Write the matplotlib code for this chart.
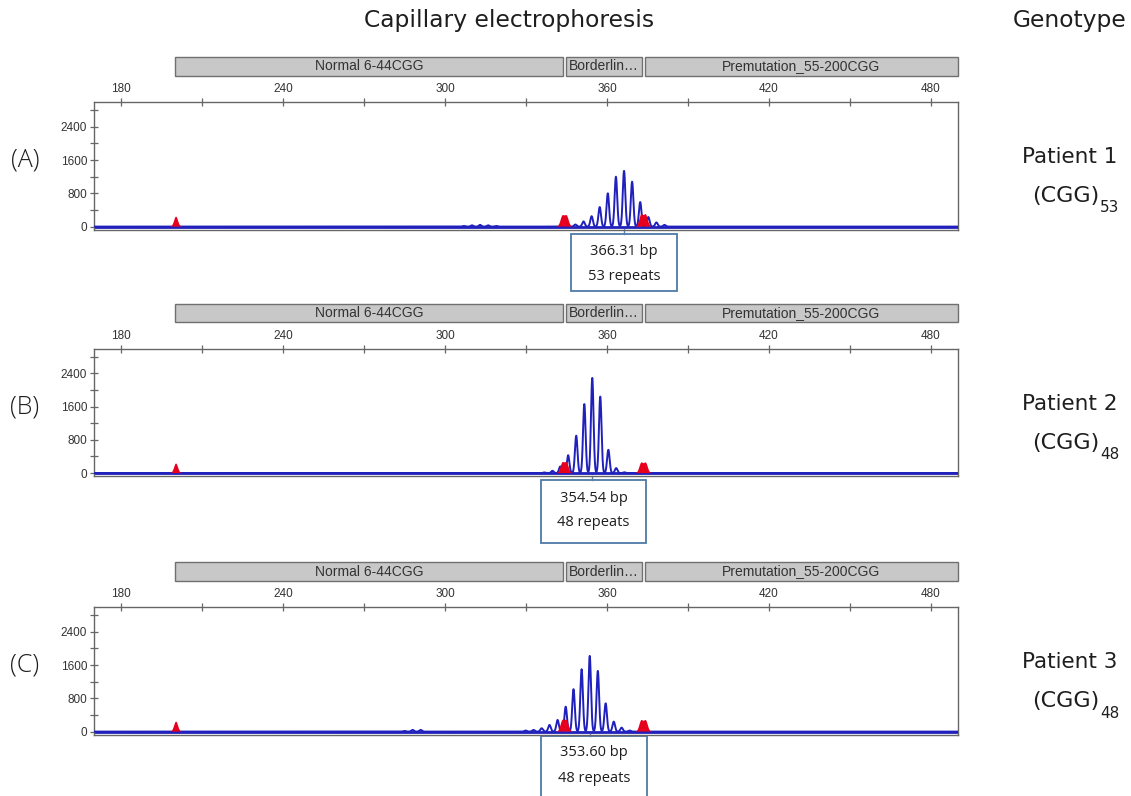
import numpy as np
import matplotlib
matplotlib.use("Agg")
import matplotlib.pyplot as plt
from matplotlib.patches import Rectangle
from matplotlib.transforms import blended_transform_factory

# ---------------- data ----------------
panel_tags = ["(A)", "(B)", "(C)"]
patients = ["Patient 1", "Patient 2", "Patient 3"]
repeat_counts = ["53", "48", "48"]
sizes_bp = ["366.31 bp", "354.54 bp", "353.60 bp"]
repeat_labels = ["53 repeats", "48 repeats", "48 repeats"]
called_peak_bp = [366.31, 354.54, 353.60]

# blue trace peaks (bp position, RFU height)
A_pos = [307, 310, 313, 316, 319, 345.3, 348.3, 351.3, 354.3, 357.3, 360.3,
         363.3, 366.31, 369.3, 372.3, 375.3, 378.3, 381.3]
A_h = [15, 30, 40, 30, 15, 20, 50, 125, 250, 470, 800,
       1200, 1340, 1080, 590, 230, 100, 40]
B_pos = [336.8, 339.8, 342.7, 345.6, 348.6, 351.6, 354.54, 357.5, 360.5,
         363.4, 366.4]
B_h = [15, 55, 160, 430, 900, 1660, 2290, 1840, 560, 120, 20]
C_pos = [285, 288, 291, 329.9, 332.8, 335.8, 338.7, 341.7, 344.7, 347.6,
         350.6, 353.6, 356.6, 359.5, 362.5, 365.4, 368.4]
C_h = [15, 40, 40, 25, 40, 80, 160, 280, 600, 1020,
       1500, 1820, 1460, 680, 240, 95, 25]

# red marker peaks
red_pos = [200.4, 343.5, 345.1, 372.7, 374.4]
A_red_h = [240, 250, 250, 280, 280]
B_red_h = [230, 240, 240, 240, 240]
C_red_h = [240, 260, 260, 260, 260]

# size-range bins
bin_names = ["Normal 6-44CGG", "Borderlin\u2026", "Premutation_55-200CGG"]
bin_start = [200.0, 344.7, 373.9]
bin_end = [343.7, 372.8, 490.0]

x_major = [180, 240, 300, 360, 420, 480]
x_minor = [210, 270, 330, 390, 450]
y_major = [0, 800, 1600, 2400]
y_minor = [400, 1200, 2000, 2800]

blue_pos = [A_pos, B_pos, C_pos]
blue_h = [A_h, B_h, C_h]
red_h = [A_red_h, B_red_h, C_red_h]

# ---------------- layout ----------------
W, H = 1131, 796
fig = plt.figure(figsize=(W / 100, H / 100), dpi=100)

def rect(x0, y0, x1, y1):
    return [x0 / W, 1 - y1 / H, (x1 - x0) / W, (y1 - y0) / H]

def fy(y):
    return 1 - y / H

offsets = [0, 246.5, 505]
box_center = [366.3, 355.0, 355.2]
box_rows = [(234, 291, 252, 277), (480, 543, 498, 523), (736, 800, 753, 778)]

grid = np.linspace(170, 490, 12801)

def trace(pos, h, sigma):
    y = np.zeros_like(grid)
    for p, hh in zip(pos, h):
        y += hh * np.exp(-0.5 * ((grid - p) / sigma) ** 2)
    return y

label_font = ["Open Sans", "DejaVu Sans"]
head_font = ["DejaVu Sans"]
chart_font = ["Liberation Sans", "DejaVu Sans"]
spine_c = "#666666"
txt_c = "#1e1e1e"

fig.text(509 / W, fy(20), "Capillary electrophoresis", ha="center", va="center",
         fontsize=16.8, family=head_font, color=txt_c)
fig.text(1070 / W, fy(20), "Genotype", ha="center", va="center",
         fontsize=16.8, family=head_font, color=txt_c)

for i in range(3):
    off = offsets[i]
    # bins bar
    cax = fig.add_axes(rect(94, 57.3 + off, 958, 75.7 + off))
    cax.set_xlim(170, 490)
    cax.set_ylim(0, 1)
    cax.axis("off")
    for name, s, e in zip(bin_names, bin_start, bin_end):
        cax.add_patch(Rectangle((s, 0), e - s, 1, facecolor="#c8c8c8",
                                edgecolor="#707070", lw=1.0, clip_on=False))
        cax.text((s + e) / 2, 0.5, name, ha="center", va="center",
                 fontsize=10, family=chart_font, color="#333333")

    ax = fig.add_axes(rect(94, 102.3 + off, 958, 229.5 + off))
    ax.set_xlim(170, 490)
    ax.set_ylim(-70, 2990)
    blue = trace(blue_pos[i], blue_h[i], 0.47)
    red = trace(red_pos, red_h[i], 0.72)
    ax.plot(grid, blue, color="#2020bc", lw=1.4, zorder=3)
    ax.fill_between(grid, 0, red, where=red > 3, color="#e6001e", lw=0,
                    zorder=4)
    ax.axhline(0, color="#2020bc", lw=2.0, zorder=2)

    ax.xaxis.tick_top()
    ax.set_xticks(x_major)
    ax.set_xticks(x_minor, minor=True)
    ax.set_yticks(y_major)
    ax.set_yticks(y_minor, minor=True)
    ax.tick_params(axis="both", which="both", direction="inout", length=6,
                   width=0.9, color=spine_c, labelsize=8.5,
                   labelcolor="#333333")
    ax.tick_params(axis="x", pad=2)
    ax.tick_params(axis="y", pad=2)
    for lab in ax.get_xticklabels() + ax.get_yticklabels():
        lab.set_family(chart_font)
    for sp in ax.spines.values():
        sp.set_color(spine_c)
        sp.set_linewidth(1.0)

    # called-peak box
    bt = blended_transform_factory(ax.transData, fig.transFigure)
    top, bot, t1, t2 = box_rows[i]
    half = 19.6
    cx = box_center[i]
    ax.add_line(plt.Line2D([called_peak_bp[i]] * 2, [fy(229 + off), fy(top)],
                           transform=bt, color="#5a7fa8", lw=1.0,
                           clip_on=False))
    ax.add_patch(Rectangle((cx - half, fy(bot)), 2 * half, fy(top) - fy(bot),
                           transform=bt, facecolor="white",
                           edgecolor="#4e7aa6", lw=1.3, clip_on=False))
    ax.text(cx, fy(t1), sizes_bp[i], transform=bt, ha="center", va="center",
            fontsize=10.5, family=label_font, color=txt_c)
    ax.text(cx, fy(t2), repeat_labels[i], transform=bt, ha="center",
            va="center", fontsize=10.5, family=label_font, color=txt_c)

    # left tag
    fig.text(25 / W, fy(160 + off), panel_tags[i], ha="center", va="center",
             fontsize=18, family=label_font, color=txt_c,
             fontweight="light")
    # genotype
    fig.text(1070 / W, fy(157 + off), patients[i], ha="center", va="center",
             fontsize=15.5, family=head_font, color=txt_c)
    fig.text(1099 / W, fy(196 + off), "(CGG)", ha="right", va="center",
             fontsize=16, family=head_font, color=txt_c)
    fig.text(1100 / W, fy(208 + off), repeat_counts[i], ha="left",
             va="center", fontsize=11, family=head_font, color=txt_c)

fig.savefig("out.png", dpi=100)
